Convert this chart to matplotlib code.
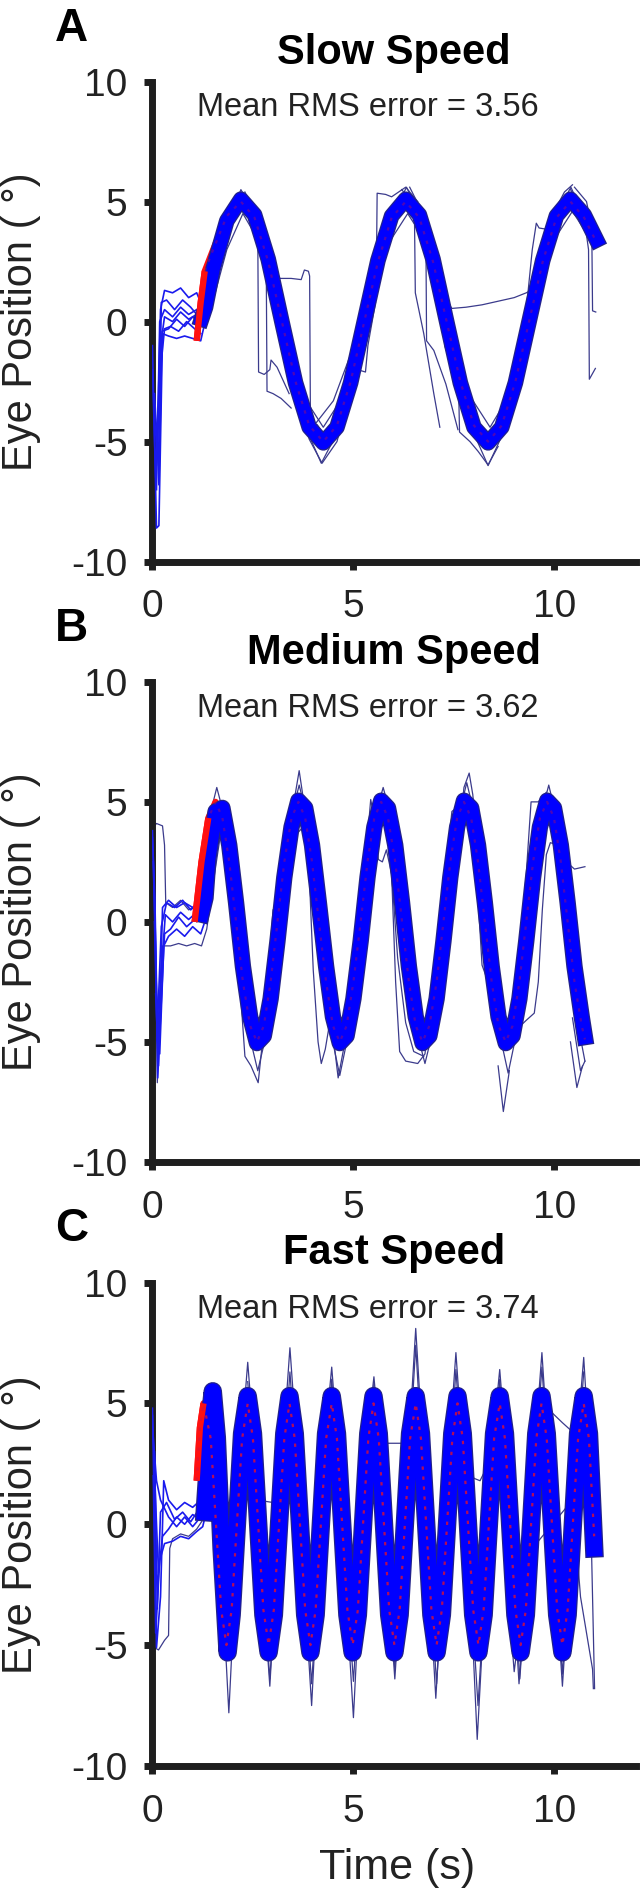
import matplotlib.pyplot as plt

plt.rcParams['font.family'] = ['Liberation Sans', 'DejaVu Sans']
plt.rcParams['axes.unicode_minus'] = False

# ---------------- A: slow speed ----------------
slow_target_t = [1.10, 1.20, 1.30, 1.51, 1.85, 2.20, 2.54, 2.88, 3.22, 3.56, 3.90, 4.25, 4.59, 4.93,
                 5.27, 5.61, 5.95, 6.30, 6.64, 6.98, 7.32, 7.66, 8.00, 8.35, 8.69, 9.03, 9.37,
                 9.71, 10.05, 10.40, 10.74, 11.05]
slow_target = [-0.8, 0.8, 2.1, 3.0, 4.4, 5.0, 4.33, 2.5, 0.0, -2.5, -4.33, -5.0, -4.33, -2.5,
               0.0, 2.5, 4.33, 5.0, 4.33, 2.5, 0.0, -2.5, -4.33, -5.0, -4.33, -2.5, 0.0,
               2.5, 4.33, 5.0, 4.33, 3.3]
slow_band_t = [1.22, 1.32, 1.51, 1.85, 2.20, 2.54, 2.88, 3.22, 3.56, 3.90, 4.25, 4.59, 4.93,
               5.27, 5.61, 5.95, 6.30, 6.64, 6.98, 7.32, 7.66, 8.00, 8.35, 8.69, 9.03, 9.37,
               9.71, 10.05, 10.40, 10.74, 11.05]
slow_band = [0.1, 0.6, 2.2, 4.2, 5.1, 4.45, 2.6, 0.0, -2.55, -4.4, -5.05, -4.4, -2.55,
             0.0, 2.55, 4.4, 5.1, 4.45, 2.6, 0.0, -2.55, -4.4, -5.05, -4.4, -2.55, 0.0,
             2.55, 4.4, 5.1, 4.45, 3.4]
slow_start = [
    ([0.00, 0.08, 0.15, 0.20, 0.30, 0.50, 0.70, 0.90, 1.10, 1.25, 1.40], [-2.0, -6.5, -3.0, 0.5, 1.3, 1.2, 1.4, 1.0, 1.2, 0.6, 1.6]),
    ([0.00, 0.10, 0.16, 0.25, 0.40, 0.60, 0.80, 1.00, 1.20, 1.35], [-1.0, -8.6, -8.5, -0.5, -0.6, -0.7, -0.6, -0.7, -0.8, 0.3]),
    ([0.05, 0.12, 0.20, 0.30, 0.50, 0.70, 0.90, 1.10, 1.25], [-4.0, -5.5, -1.0, 0.2, 0.0, 0.4, 0.1, 0.3, 0.0]),
    ([0.05, 0.15, 0.22, 0.35, 0.55, 0.75, 0.95, 1.15, 1.30], [-3.0, -6.0, 0.8, 0.9, 0.5, 0.9, 0.6, 0.2, 0.8]),
    ([0.10, 0.20, 0.30, 0.45, 0.65, 0.85, 1.05, 1.20], [-5.0, -2.0, -0.3, -0.2, -0.4, 0.0, -0.3, -0.5]),
    ([0.10, 0.18, 0.30, 0.50, 0.70, 0.90, 1.10, 1.25], [-7.0, 0.0, 0.5, 0.2, 0.6, 0.3, 0.5, 0.2]),
    ([0.12, 0.16, 0.24, 0.40, 0.60, 0.80, 1.00, 1.20], [-4.5, -6.8, -0.4, -0.3, 0.1, -0.2, 0.2, -0.1]),
]
slow_thin = [
    ([2.30, 2.50, 2.62, 2.64, 2.78, 2.92, 2.95, 3.10, 3.40], [5.4, 4.6, 3.7, -2.1, -2.2, -2.0, -1.6, -1.9, -3.0]),
    ([2.45, 2.70, 2.83, 2.85, 3.00, 3.20, 3.45], [5.0, 3.9, 2.5, -2.9, -3.0, -3.2, -3.6]),
    ([2.60, 2.85, 3.05, 3.17, 3.45, 3.70, 3.78, 3.88, 3.91, 3.93, 4.10, 4.30], [4.6, 3.2, 2.2, 1.8, 1.8, 1.75, 2.15, 2.1, 1.9, -4.1, -4.3, -4.8]),
    ([4.08, 4.50, 4.90, 5.00, 5.10, 5.30, 5.36, 5.55], [-4.2, -3.3, -1.5, -1.4, -2.0, -2.1, -1.0, 0.8]),
    ([5.30, 5.48, 5.57, 5.59, 5.80, 5.95, 6.30, 6.60], [-0.3, 1.2, 1.9, 5.35, 5.3, 5.2, 5.6, 5.0]),
    ([6.20, 6.45, 6.52, 6.54, 6.75, 7.00, 7.15], [5.5, 5.0, 4.2, 1.2, -0.5, -3.0, -4.4]),
    ([6.40, 6.70, 6.80, 6.82, 7.00, 7.30, 7.60], [5.6, 4.6, 4.3, -0.8, -1.2, -2.6, -4.5]),
    ([6.90, 7.20, 7.35, 7.45, 7.80, 8.20, 8.60, 9.00, 9.30, 9.47, 9.60], [3.4, 1.5, 0.8, 0.55, 0.6, 0.7, 0.85, 1.0, 1.2, 1.35, 2.0]),
    ([7.10, 7.25, 7.27, 7.55, 7.62, 7.64, 7.90, 8.10, 8.35, 8.60], [1.8, 0.4, -1.0, -2.4, -3.0, -4.6, -5.0, -5.4, -5.97, -5.2]),
    ([3.56, 3.90, 4.22, 4.59, 4.93], [-2.7, -4.9, -5.9, -5.0, -2.9]),
    ([9.10, 9.30, 9.45, 9.55, 9.62, 9.80, 10.00, 10.25, 10.45], [-2.0, 0.5, 3.0, 4.1, 3.9, 3.85, 4.6, 5.4, 5.7]),
    ([10.40, 10.70, 10.85, 10.87, 11.02], [5.5, 4.8, 3.0, -2.4, -1.95]),
    ([10.50, 10.80, 10.93, 10.95, 11.03], [5.6, 5.0, 3.9, 0.45, 0.4]),
    ([1.30, 1.70, 2.20, 2.70, 3.20, 3.70, 4.20, 4.70, 5.20, 5.80, 6.32, 6.80, 7.30, 7.85, 8.35, 8.85, 9.40, 9.90, 10.41, 10.80],
     [0.3, 3.3, 5.5, 4.0, 0.2, -4.0, -5.9, -4.3, -0.5, 3.8, 5.6, 4.1, 0.1, -4.1, -6.0, -4.2, 0.3, 4.0, 5.6, 4.2]),
    ([1.40, 1.85, 2.25, 2.70, 3.25, 3.75, 4.25, 4.75, 5.30, 5.85, 6.35, 6.85, 7.40, 7.90, 8.40, 8.90, 9.45, 9.95, 10.45, 10.90],
     [0.2, 3.0, 4.5, 3.2, 0.0, -3.1, -4.4, -3.1, 0.0, 3.2, 4.5, 3.2, 0.0, -3.1, -4.4, -3.0, 0.1, 3.3, 4.6, 3.4]),
]

# ---------------- B: medium speed ----------------
medium_target_t = [1.05, 1.22, 1.39, 1.57, 1.74, 1.91, 2.08, 2.25, 2.43, 2.60, 2.77, 2.94,
                   3.11, 3.28, 3.46, 3.63, 3.80, 3.97, 4.14, 4.32, 4.49, 4.66, 4.83, 5.00,
                   5.18, 5.35, 5.52, 5.69, 5.86, 6.04, 6.21, 6.38, 6.55, 6.72, 6.89, 7.07,
                   7.24, 7.41, 7.58, 7.75, 7.93, 8.10, 8.27, 8.44, 8.61, 8.79, 8.96, 9.13,
                   9.30, 9.47, 9.64, 9.82, 9.99, 10.16, 10.33, 10.50, 10.68, 10.76]
medium_target = [0.0, 2.5, 4.33, 5.0, 4.33, 2.5, 0.0, -2.5, -4.33, -5.0, -4.33, -2.5,
                 0.0, 2.5, 4.33, 5.0, 4.33, 2.5, 0.0, -2.5, -4.33, -5.0, -4.33, -2.5,
                 0.0, 2.5, 4.33, 5.0, 4.33, 2.5, 0.0, -2.5, -4.33, -5.0, -4.33, -2.5,
                 0.0, 2.5, 4.33, 5.0, 4.33, 2.5, 0.0, -2.5, -4.33, -5.0, -4.33, -2.5,
                 0.0, 2.5, 4.33, 5.0, 4.33, 2.5, 0.0, -2.5, -4.33, -4.9]
medium_band_t = [1.22, 1.32, 1.39, 1.57, 1.74, 1.91, 2.08, 2.25, 2.43, 2.60, 2.77, 2.94,
                 3.11, 3.28, 3.46, 3.63, 3.80, 3.97, 4.14, 4.32, 4.49, 4.66, 4.83, 5.00,
                 5.18, 5.35, 5.52, 5.69, 5.86, 6.04, 6.21, 6.38, 6.55, 6.72, 6.89, 7.07,
                 7.24, 7.41, 7.58, 7.75, 7.93, 8.10, 8.27, 8.44, 8.61, 8.79, 8.96, 9.13,
                 9.30, 9.47, 9.64, 9.82, 9.99, 10.16, 10.33, 10.50, 10.68, 10.76]
medium_band = [0.3, 1.0, 2.6, 4.6, 4.75, 3.2, 0.8, -1.85, -3.95, -5.05, -4.75, -3.2,
               -0.8, 1.85, 3.95, 5.05, 4.75, 3.2, 0.8, -1.85, -3.95, -5.05, -4.75, -3.2,
               -0.8, 1.85, 3.95, 5.05, 4.75, 3.2, 0.8, -1.85, -3.95, -5.05, -4.75, -3.2,
               -0.8, 1.85, 3.95, 5.05, 4.75, 3.2, 0.8, -1.85, -3.95, -5.05, -4.75, -3.2,
               -0.8, 1.85, 3.95, 5.05, 4.75, 3.2, 0.8, -1.85, -3.95, -4.8]
medium_start = [
    ([0.00, 0.08, 0.13, 0.20, 0.30, 0.45, 0.65, 0.85, 1.05, 1.25], [3.8, -1.0, -6.5, -4.0, -0.5, -0.3, 0.2, -0.2, 0.1, 0.2]),
    ([0.00, 0.06, 0.12, 0.22, 0.35, 0.55, 0.75, 0.95, 1.15, 1.30], [3.5, 1.0, -4.5, -0.2, 0.8, 0.6, 0.9, 0.5, 0.8, 0.6]),
    ([0.02, 0.10, 0.18, 0.28, 0.40, 0.60, 0.80, 1.00, 1.20, 1.30], [2.5, -3.0, -5.5, -1.0, -0.6, -0.3, -0.6, -0.2, -0.5, 0.0]),
    ([0.05, 0.12, 0.20, 0.32, 0.50, 0.70, 0.90, 1.10, 1.25], [0.0, -5.0, -2.5, 0.3, 0.0, 0.4, 0.1, 0.4, 0.2]),
    ([0.08, 0.15, 0.25, 0.40, 0.60, 0.80, 1.00, 1.20], [-3.0, -6.0, 0.6, 0.9, 0.6, 0.8, 0.6, 0.9]),
]
medium_thin = [
    ([0.00, 0.10, 0.25, 0.30, 0.33, 0.50, 0.70, 0.90, 1.10, 1.30], [3.9, 4.1, 4.0, 3.2, 0.8, 0.6, 0.9, 0.5, 0.7, 0.4]),
    ([0.05, 0.12, 0.16, 0.25, 0.45, 0.65, 0.85, 1.05, 1.22, 1.35, 1.50, 1.68, 1.78, 1.95, 2.10],
     [1.0, -6.7, -5.0, -1.0, -1.0, -0.9, -1.0, -0.9, -1.0, -0.3, 1.5, 3.5, 3.6, 1.5, -1.0]),
    ([2.00, 2.15, 2.30, 2.45, 2.63, 2.80, 3.00], [2.5, -2.0, -5.6, -6.0, -6.7, -4.0, 0.5]),
    ([3.50, 3.65, 3.80], [4.8, 6.3, 4.6]),
    ([3.55, 3.75, 3.90, 4.00, 4.12, 4.20, 4.30, 4.45, 4.55, 4.70], [5.0, 4.5, 2.0, -2.0, -5.0, -5.9, -5.3, -3.8, -4.5, -5.2]),
    ([3.35, 3.55, 3.72, 3.85, 3.98], [2.4, 3.6, 3.9, 3.4, 1.5]),
    ([4.50, 4.62, 4.80], [-4.8, -6.5, -4.9]),
    ([5.10, 5.30, 5.43, 5.52, 5.62, 5.72, 5.82, 5.95, 6.10, 6.30, 6.50, 6.75],
     [-0.5, 2.5, 5.1, 4.3, 2.6, 2.5, 3.0, 2.0, -1.5, -4.2, -5.4, -5.6]),
    ([5.85, 5.95, 6.05, 6.15, 6.30, 6.60, 6.78, 6.95, 7.10], [4.5, 2.0, -2.5, -5.4, -5.8, -5.9, -5.5, -3.0, -0.5]),
    ([7.20, 7.35, 7.45, 7.60, 7.75], [0.5, 3.0, 4.6, 4.8, 5.2]),
    ([7.60, 7.75, 7.88, 7.97, 8.10], [3.0, 5.6, 6.2, 5.3, 3.0]),
    ([8.00, 8.10, 8.20, 8.35, 8.50, 8.70], [4.0, 1.0, -1.8, -2.5, -3.8, -5.3]),
    ([8.60, 8.73, 8.88], [-6.0, -7.9, -6.2]),
    ([8.85, 9.05, 9.30, 9.50, 9.60, 9.70, 9.80, 9.90, 10.10, 10.30, 10.50, 10.76],
     [-5.0, -4.5, -4.1, -3.8, -2.5, 0.5, 2.8, 3.3, 3.2, 2.5, 2.2, 2.3]),
    ([9.10, 9.30, 9.42, 9.60, 9.80], [-2.0, 2.0, 5.0, 5.0, 5.4]),
    ([10.40, 10.56, 10.70], [-5.0, -6.9, -6.0]),
    ([10.45, 10.65, 10.76], [-4.0, -6.2, -5.8]),
    ([1.10, 1.35, 1.60, 1.85, 2.10, 2.35, 2.62, 2.90, 3.13, 3.40, 3.65, 3.90, 4.14, 4.40, 4.66, 4.92, 5.20, 5.47, 5.74,
      6.00, 6.25, 6.52, 6.78, 7.04, 7.30, 7.56, 7.82, 8.08, 8.33, 8.59, 8.85, 9.10, 9.35, 9.60, 9.86, 10.10, 10.35, 10.60, 10.76],
     [0.0, 3.9, 5.6, 4.0, 0.0, -4.3, -6.2, -4.2, 0.0, 4.0, 5.7, 4.0, 0.0, -4.3, -6.4, -4.3, 0.0, 4.0, 5.6,
      4.0, 0.0, -4.2, -5.9, -4.1, 0.0, 4.0, 5.8, 4.0, 0.0, -4.3, -6.3, -4.3, 0.0, 4.0, 5.7, 4.0, 0.0, -4.4, -5.8]),
]

# ---------------- C: fast speed ----------------
fast_target_t = [1.10, 1.18, 1.27,
                 1.45, 1.58, 1.71, 1.84, 1.97, 2.10, 2.23,
                 2.37, 2.50, 2.63, 2.76, 2.89, 3.02, 3.15, 3.28,
                 3.41, 3.54, 3.67, 3.80, 3.93, 4.06, 4.19, 4.32,
                 4.46, 4.59, 4.72, 4.85, 4.98, 5.11, 5.24, 5.37,
                 5.50, 5.63, 5.76, 5.89, 6.02, 6.15, 6.28, 6.41,
                 6.55, 6.68, 6.81, 6.94, 7.07, 7.20, 7.33, 7.46,
                 7.59, 7.72, 7.85, 7.98, 8.11, 8.24, 8.37, 8.50,
                 8.64, 8.77, 8.90, 9.03, 9.16, 9.29, 9.42, 9.55,
                 9.68, 9.81, 9.94, 10.07, 10.20, 10.33, 10.46, 10.59,
                 10.73, 10.86, 10.99]
fast_target = [1.8, 4.0, 5.0,
               3.54, 0.0, -3.54, -5.0, -3.54, 0.0, 3.54,
               5.0, 3.54, 0.0, -3.54, -5.0, -3.54, 0.0, 3.54,
               5.0, 3.54, 0.0, -3.54, -5.0, -3.54, 0.0, 3.54,
               5.0, 3.54, 0.0, -3.54, -5.0, -3.54, 0.0, 3.54,
               5.0, 3.54, 0.0, -3.54, -5.0, -3.54, 0.0, 3.54,
               5.0, 3.54, 0.0, -3.54, -5.0, -3.54, 0.0, 3.54,
               5.0, 3.54, 0.0, -3.54, -5.0, -3.54, 0.0, 3.54,
               5.0, 3.54, 0.0, -3.54, -5.0, -3.54, 0.0, 3.54,
               5.0, 3.54, 0.0, -3.54, -5.0, -3.54, 0.0, 3.54,
               5.0, 3.54, -0.5]
fast_band_t = [1.30, 1.38, 1.44, 1.50, 1.60, 1.72, 1.87, 1.97, 2.10, 2.23,
               2.37, 2.50, 2.63, 2.76, 2.89, 3.02, 3.15, 3.28,
               3.41, 3.54, 3.67, 3.80, 3.93, 4.06, 4.19, 4.32,
               4.46, 4.59, 4.72, 4.85, 4.98, 5.11, 5.24, 5.37,
               5.50, 5.63, 5.76, 5.89, 6.02, 6.15, 6.28, 6.41,
               6.55, 6.68, 6.81, 6.94, 7.07, 7.20, 7.33, 7.46,
               7.59, 7.72, 7.85, 7.98, 8.11, 8.24, 8.37, 8.50,
               8.64, 8.77, 8.90, 9.03, 9.16, 9.29, 9.42, 9.55,
               9.68, 9.81, 9.94, 10.07, 10.20, 10.33, 10.46, 10.59,
               10.73, 10.86, 10.99]
fast_band = [0.5, 2.5, 4.6, 5.5, 3.6, -1.0, -5.3, -3.75, 0.0, 3.75,
             5.3, 3.75, 0.0, -3.75, -5.3, -3.75, 0.0, 3.75,
             5.3, 3.75, 0.0, -3.75, -5.3, -3.75, 0.0, 3.75,
             5.3, 3.75, 0.0, -3.75, -5.3, -3.75, 0.0, 3.75,
             5.3, 3.75, 0.0, -3.75, -5.3, -3.75, 0.0, 3.75,
             5.3, 3.75, 0.0, -3.75, -5.3, -3.75, 0.0, 3.75,
             5.3, 3.75, 0.0, -3.75, -5.3, -3.75, 0.0, 3.75,
             5.3, 3.75, 0.0, -3.75, -5.3, -3.75, 0.0, 3.75,
             5.3, 3.75, 0.0, -3.75, -5.3, -3.75, 0.0, 3.75,
             5.3, 3.75, -1.0]
fast_start = [
    ([0.00, 0.06, 0.10, 0.20, 0.28, 0.40, 0.60, 0.80, 1.00, 1.20, 1.30], [4.8, -1.0, -5.1, -3.0, 1.8, 1.0, 0.6, 0.9, 0.7, 1.0, 0.8]),
    ([0.00, 0.10, 0.15, 0.25, 0.40, 0.60, 0.80, 1.00, 1.20, 1.33], [4.5, 0.0, -2.0, -0.5, -0.2, 0.3, 0.0, 0.4, 0.2, 0.9]),
    ([0.02, 0.08, 0.18, 0.30, 0.50, 0.70, 0.90, 1.10, 1.25, 1.35], [2.0, -4.5, -1.5, -0.8, -0.7, -0.5, -0.6, -0.3, -0.1, 0.6]),
    ([0.05, 0.12, 0.20, 0.35, 0.55, 0.75, 0.95, 1.15, 1.30], [3.0, -3.5, 0.5, 0.9, 0.2, 0.5, 0.1, 0.6, 1.5]),
    ([0.00, 0.10, 0.20, 0.40, 0.60, 0.80, 1.00, 1.20], [4.0, 1.8, 1.0, 0.3, -0.1, 0.3, -0.1, 0.3]),
]
fast_thin = [
    ([0.05, 0.15, 0.30, 0.40, 0.43, 0.50, 0.70, 0.90, 1.10, 1.30], [-5.1, -5.2, -4.8, -4.6, -1.0, -0.6, -0.4, -0.5, -0.2, 0.3]),
    ([1.30, 1.43, 1.90, 2.34, 2.80, 3.20, 3.40, 3.50, 3.65, 3.84, 3.92, 4.05, 4.15, 4.30, 4.45],
     [0.7, 0.72, 0.9, 1.15, 0.95, 0.85, 1.1, 0.9, -0.3, -1.4, -1.6, 0.0, 1.0, 3.0, 5.0]),
    ([5.10, 5.20, 5.26, 5.36, 5.50, 5.74, 6.30, 6.40, 6.55], [1.0, 3.3, 4.5, 4.2, 3.6, 3.35, 3.35, 4.4, 5.5]),
    ([7.55, 7.68, 7.80, 8.00, 8.15, 8.30, 8.45, 8.60], [5.5, 3.2, 2.5, 1.9, 1.8, 2.3, 3.5, 5.5]),
    ([8.60, 8.75, 8.88, 8.90, 9.00, 9.08, 9.20, 9.40, 9.60, 9.90, 10.10, 10.30, 10.40, 10.50, 10.65, 10.80, 10.95, 10.97],
     [5.0, 2.0, -0.6, -4.0, -6.1, -5.0, -1.2, -0.9, -0.7, -0.1, 0.3, 0.7, 1.4, 0.2, -3.0, -4.5, -6.0, -6.8]),
    ([9.70, 9.95, 10.20, 10.40, 10.60, 10.80, 11.00], [5.6, 4.6, 4.2, 3.9, 4.1, 4.2, 3.9]),
    ([1.30, 1.40, 1.50, 1.62, 1.72, 1.90, 2.10, 2.22, 2.37, 2.52, 2.66, 2.92, 3.15, 3.28, 3.42, 3.56, 3.70, 3.96,
      4.19, 4.32, 4.46, 4.60, 4.73, 5.00, 5.24, 5.37, 5.51, 5.65, 5.78, 6.03, 6.28, 6.41, 6.55, 6.69, 6.82, 7.05,
      7.30, 7.42, 7.55, 7.70, 7.85, 8.08, 8.37, 8.50, 8.64, 8.78, 8.90, 9.12, 9.42, 9.55, 9.69, 9.83, 9.96, 10.20,
      10.46, 10.59, 10.73, 10.87, 11.00],
     [0.5, 4.0, 5.6, 3.0, -2.0, -7.8, -1.0, 3.5, 6.7, 3.5, -0.5, -6.7, 0.0, 4.0, 7.3, 4.0, -0.5, -7.5,
      0.0, 4.0, 6.5, 3.5, -0.5, -8.0, 0.0, 4.0, 6.1, 3.5, -0.5, -6.4, 0.0, 4.2, 8.1, 4.2, -0.5, -7.2,
      0.0, 4.0, 7.1, 3.5, -0.5, -8.9, 0.0, 4.0, 6.4, 3.5, -0.5, -6.6, 0.0, 4.0, 7.1, 3.5, -0.5, -6.7,
      0.0, 4.0, 6.9, 3.0, -6.8]),
    ([2.37, 2.65, 2.92, 3.17, 3.42, 3.69, 3.96, 4.21, 4.46, 4.73, 5.00, 5.25, 5.51, 5.77, 6.03, 6.29, 6.55,
      6.81, 7.07, 7.31, 7.55, 7.82, 8.10, 8.37, 8.64, 8.90, 9.14, 9.41, 9.69, 9.95, 10.20, 10.46, 10.73],
     [5.9, 0.0, -6.4, 0.0, 6.3, 0.0, -6.6, 0.0, 6.0, 0.0, -6.5, 0.0, 5.8, 0.0, -6.0, 0.0, 7.4,
      0.0, -6.6, 0.0, 6.4, 0.0, -7.5, 0.0, 6.0, 0.0, -6.4, 0.0, 6.5, 0.0, -6.2, 0.0, 6.3]),
]

titles = ['Slow Speed', 'Medium Speed', 'Fast Speed']
letters = ['A', 'B', 'C']
rms_errors = [3.56, 3.62, 3.74]

panels = [
    (slow_target_t, slow_target, slow_band_t, slow_band, slow_start, slow_thin),
    (medium_target_t, medium_target, medium_band_t, medium_band, medium_start, medium_thin),
    (fast_target_t, fast_target, fast_band_t, fast_band, fast_start, fast_thin),
]

ax_boxes = [[0.2375, 0.7033, 0.7531, 0.2536],
            [0.2375, 0.3862, 0.7531, 0.2536],
            [0.2375, 0.0671, 0.7531, 0.2554]]
letter_y = [0.9783, 0.6614, 0.3444]
band_width = [9.5, 10, 11.5]
red_dots_alpha = [0.35, 0.35, 0.8]
n_lead = [3, 3, 3]   # first target points drawn over the band (target leads the eye)

fig = plt.figure(figsize=(6.42, 18.93), dpi=100)

for i in range(3):
    tt, target, bt, band, starts, thins = panels[i]
    ax = fig.add_axes(ax_boxes[i])

    for t, y in thins:
        ax.plot(t, y, color='#3b3b8c', lw=0.9, zorder=2)
    for t, y in starts:
        ax.plot(t, y, color='#1a1aee', lw=1.2, zorder=3)

    ax.plot(tt, target, color='#ff1010', lw=4.5, zorder=4, solid_capstyle='butt')
    ax.plot(bt, band, color='#22228a', lw=band_width[i] + 1.8, zorder=5)
    ax.plot(bt, band, color='#0000ff', lw=band_width[i], zorder=6)
    ax.plot(tt[:n_lead[i]], target[:n_lead[i]], color='#ff1010', lw=4.5, zorder=6.5,
            solid_capstyle='butt')
    ax.plot(tt, target, color='#e01030', lw=1.6, ls=(0, (1.5, 3)), alpha=red_dots_alpha[i], zorder=7)

    ax.set_xlim(0, 12.03)
    ax.set_ylim(-10, 10)
    ax.set_xticks([0, 5, 10])
    ax.set_yticks([-10, -5, 0, 5, 10])
    for s in ['top', 'right']:
        ax.spines[s].set_visible(False)
    for s in ['left', 'bottom']:
        ax.spines[s].set_linewidth(5)
        ax.spines[s].set_color('#1e1e1e')
    ax.tick_params(direction='out', length=6, width=5, color='#1e1e1e',
                   labelsize=28, labelcolor='#222222')
    ax.tick_params(axis='x', pad=14)
    ax.tick_params(axis='y', pad=12)

    ax.set_title(titles[i], fontsize=30, fontweight='bold', pad=13)
    ax.text(5.35, 8.55, f'Mean RMS error = {rms_errors[i]:.2f}', ha='center', va='baseline',
            fontsize=23.5, color='#222222')
    ax.set_ylabel('Eye Position ( °)', fontsize=30, color='#222222')
    ax.yaxis.set_label_coords(-0.23, 0.5)
    fig.text(0.086, letter_y[i], letters[i], fontsize=33, fontweight='bold', va='baseline')

    if i == 2:
        ax.set_xlabel('Time (s)', fontsize=31, color='#222222')
        ax.xaxis.label.set_va('center')
        ax.xaxis.set_label_coords(0.505, -0.21)

fig.savefig('out.png', dpi=100)
